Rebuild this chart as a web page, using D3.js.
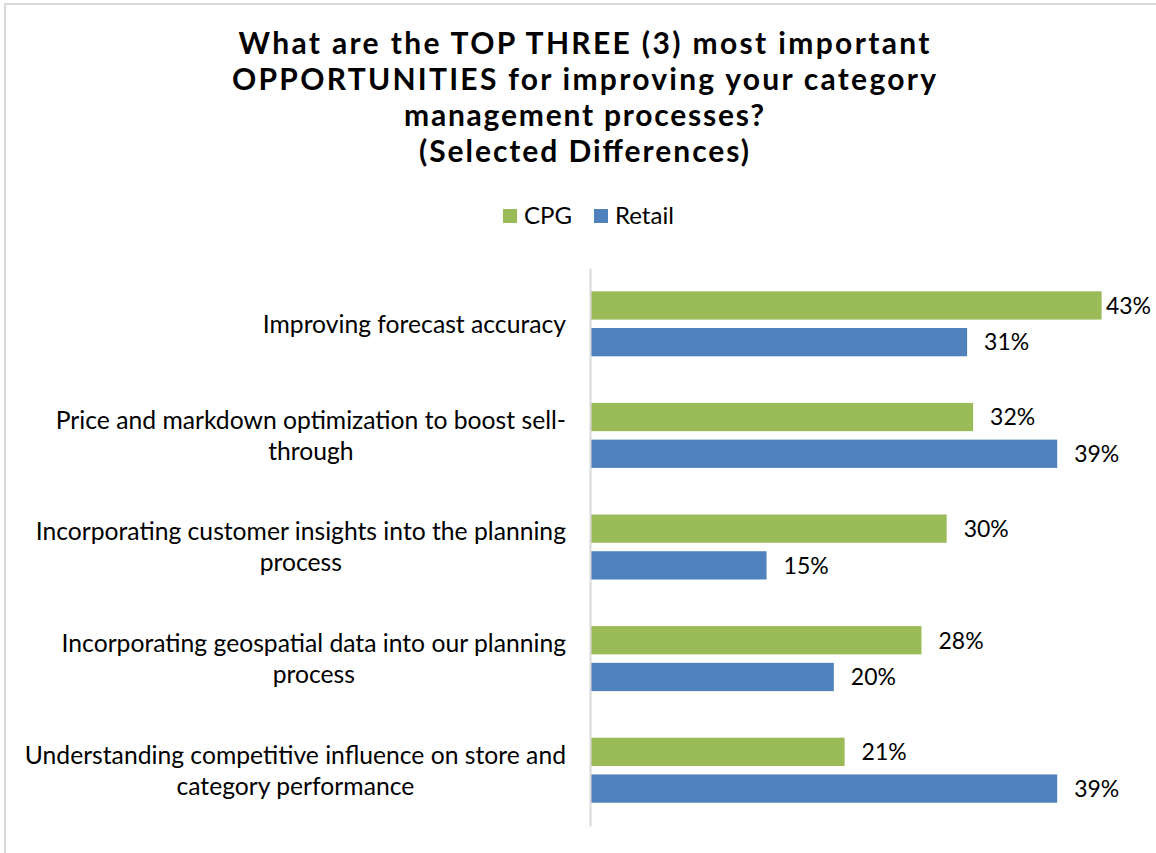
<!DOCTYPE html>
<html>
<head>
<meta charset="utf-8">
<script src="https://cdnjs.cloudflare.com/ajax/libs/d3/7.8.5/d3.min.js"></script>
<style>
  body { margin: 0; background: #fff; }
  svg { display: block; font-family: Lato, "Open Sans", sans-serif; }
</style>
</head>
<body>
<div id="chart"></div>
<script>
// chart data
var categories = [
    "Improving forecast accuracy",
    "Price and markdown optimization to boost sell-\nthrough",
    "Incorporating customer insights into the planning\nprocess",
    "Incorporating geospatial data into our planning\nprocess",
    "Understanding competitive influence on store and\ncategory performance"
];
var seriesNames = ["CPG", "Retail"];
var cpgValues = [42.6, 31.9, 29.7, 27.6, 21.2];
var retailValues = [31.4, 38.9, 14.7, 20.3, 38.9];
var titleLines = [
    "What are the TOP THREE (3) most important",
    "OPPORTUNITIES for improving your category",
    "management processes?",
    "(Selected Differences)"
];
var titleWidths = [691, 704, 360, 330];
var colors = { CPG: "#9BBB59", Retail: "#4F81BD" };

var width = 1156, height = 853;

var svg = d3.select('#chart').append('svg')
    .attr("width", width)
    .attr("height", height);

svg.append("rect")
    .attr("width", width).attr("height", height)
    .attr("fill", "#fff");

// chart area border (cut off at right / bottom)
svg.append("rect")
    .attr("x", 5).attr("y", 4)
    .attr("width", width + 50).attr("height", height + 50)
    .attr("fill", "none")
    .attr("stroke", "#d9d9d9")
    .attr("stroke-width", 2);

// title
svg.append("g").selectAll("text")
    .data(titleLines)
    .enter().append("text")
    .attr("x", 584)
    .attr("y", (d, i) => 54 + i * 36)
    .attr("text-anchor", "middle")
    .attr("font-weight", "bold")
    .attr("font-size", 30)
    .attr("textLength", (d, i) => titleWidths[i])
    .attr("lengthAdjust", "spacing")
    .attr("fill", "#000")
    .text(d => d);

// legend
var legend = svg.append("g");
var legendX = [503, 594];
seriesNames.forEach((s, i) => {
    legend.append("rect")
        .attr("x", legendX[i]).attr("y", 209)
        .attr("width", 14).attr("height", 14)
        .attr("fill", colors[s]);
    legend.append("text")
        .attr("x", legendX[i] + 21).attr("y", 224)
        .attr("font-size", 24)
        .text(s);
});

// scales
var y0 = d3.scaleBand()
    .domain(categories)
    .range([268, 826])
    .paddingInner(0);

var y1 = d3.scaleBand()
    .domain(seriesNames)
    .range([y0.bandwidth() / 2 - 32.5, y0.bandwidth() / 2 + 32.5])
    .paddingInner(0.23);

var x = d3.scaleLinear()
    .domain([0, 45])
    .range([590, 590 + 45 * 12.01]);

var rows = categories.map((c, i) => ({
    cat: c,
    values: [
        { key: "CPG", value: cpgValues[i] },
        { key: "Retail", value: retailValues[i] }
    ]
}));

// bars
var groups = svg.append("g").selectAll("g")
    .data(rows)
    .enter().append("g")
    .attr("transform", d => "translate(0," + y0(d.cat) + ")");

groups.selectAll("rect")
    .data(d => d.values)
    .enter().append("rect")
    .attr("x", x(0))
    .attr("y", d => y1(d.key))
    .attr("width", d => x(d.value) - x(0))
    .attr("height", y1.bandwidth())
    .attr("fill", d => colors[d.key]);

// value labels
groups.selectAll("text.val")
    .data(d => d.values)
    .enter().append("text")
    .attr("class", "val")
    .attr("font-size", 23)
    .attr("y", d => y1(d.key) + y1.bandwidth() / 2)
    .attr("dy", "0.36em")
    .text(d => Math.round(d.value) + "%")
    .attr("x", function (d) {
        var w = this.getComputedTextLength();
        return Math.min(x(d.value) + 17, 1151 - w);
    });

// category axis (vertical line)
svg.append("g")
    .attr("transform", "translate(" + x(0) + ",0)")
    .call(d3.axisLeft(y0).tickSize(0).tickSizeOuter(0).tickFormat(""))
    .call(g => g.select(".domain").attr("stroke", "#d9d9d9").attr("stroke-width", 2));

// category labels, centred block, right edge at 566
var lineH = 31;
var labels = svg.append("g").selectAll("text")
    .data(categories)
    .enter().append("text")
    .attr("font-size", 24.7)
    .attr("text-anchor", "middle");

labels.each(function (c) {
    var t = d3.select(this);
    var lines = c.split("\n");
    var cy = y0(c) + y0.bandwidth() / 2;
    lines.forEach((l, i) => {
        t.append("tspan")
            .attr("y", cy - (lines.length - 1) * lineH / 2 + i * lineH)
            .attr("dy", "0.36em")
            .text(l);
    });
    var maxW = d3.max(t.selectAll("tspan").nodes(), n => n.getComputedTextLength());
    t.selectAll("tspan").attr("x", 566 - maxW / 2);
});
</script>
</body>
</html>
